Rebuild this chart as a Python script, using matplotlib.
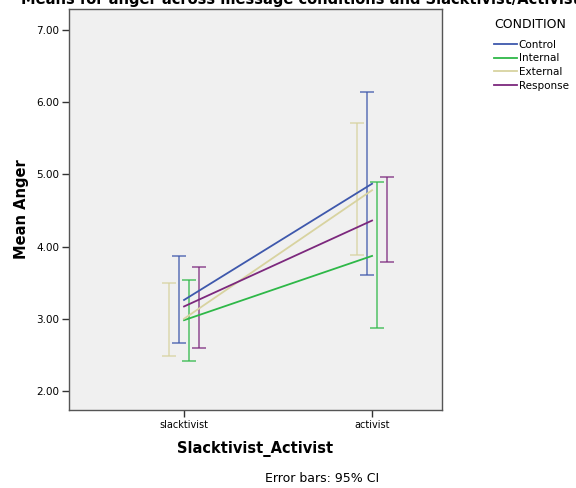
import matplotlib
matplotlib.use("Agg")
import matplotlib.pyplot as plt
from matplotlib.lines import Line2D

categories = ["slacktivist", "activist"]
conditions = ["Control", "Internal", "External", "Response"]
colors = {"Control": "#3E58AC", "Internal": "#2EB848", "External": "#D8D3A0", "Response": "#7C287D"}
means = {
    "Control":  [3.26, 4.87],
    "Internal": [2.98, 3.87],
    "External": [3.00, 4.78],
    "Response": [3.17, 4.36],
}
ci_low = {
    "Control":  [2.66, 3.60],
    "Internal": [2.42, 2.87],
    "External": [2.49, 3.88],
    "Response": [2.60, 3.78],
}
ci_high = {
    "Control":  [3.87, 6.14],
    "Internal": [3.53, 4.89],
    "External": [3.50, 5.71],
    "Response": [3.72, 4.96],
}
dodge = {"External": -0.08, "Control": -0.027, "Internal": 0.027, "Response": 0.08}
yticks = [2.0, 3.0, 4.0, 5.0, 6.0, 7.0]

plt.rcParams['font.family'] = ['DejaVu Sans']
fig = plt.figure(figsize=(5.76, 4.88), dpi=100)
ax = fig.add_axes([69/576, 1-410/488, (442-69)/576, (410-9)/488])
ax.set_facecolor("#F0F0F0")

x = list(range(len(categories)))
for c in conditions:
    ax.plot(x, means[c], color=colors[c], lw=1.3, zorder=3)
    xe = [xi + dodge[c] for xi in x]
    m = means[c]
    lo = [mi - l for mi, l in zip(m, ci_low[c])]
    hi = [h - mi for mi, h in zip(m, ci_high[c])]
    ax.errorbar(xe, m, yerr=[lo, hi], fmt='none', ecolor=colors[c], elinewidth=1.3,
                capsize=5, capthick=1.3, alpha=0.7, zorder=2)

ax.set_xlim(-0.612, 1.372)
ax.set_ylim(1.736, 7.29)
ax.set_xticks(x)
ax.set_xticklabels(categories, fontsize=7)
ax.set_yticks(yticks)
ax.set_yticklabels([f"{v:.2f}" for v in yticks], fontsize=7.5)
ax.tick_params(direction='out', length=5, width=1, color='#333333', pad=2)
for s in ax.spines.values():
    s.set_color('#555555')
    s.set_linewidth(1)

ax.set_xlabel("Slacktivist_Activist", fontsize=10.5, fontweight='bold', labelpad=8)
ax.set_ylabel("Mean Anger", fontsize=10.5, fontweight='bold', labelpad=5)

fig.text(322/576, 1-478/488, "Error bars: 95% CI", fontsize=9, ha='center', va='center')
fig.text(300/576, 1-4/488, "Means for anger across message conditions and Slacktivist/Activist",
         fontsize=10.5, fontweight='bold', ha='center', va='baseline')

handles = [Line2D([0], [0], color=colors[c], lw=1.3) for c in conditions]
leg = fig.legend(handles, conditions, title="CONDITION", loc='upper left',
                 bbox_to_anchor=(487/576, 1-11/488), frameon=False, fontsize=7.5,
                 title_fontsize=9, handlelength=2.2, handletextpad=0.15,
                 labelspacing=0.35, borderpad=0.2)
leg._legend_box.align = "left"
leg._legend_box.sep = 6

fig.savefig("out.png", dpi=100)
